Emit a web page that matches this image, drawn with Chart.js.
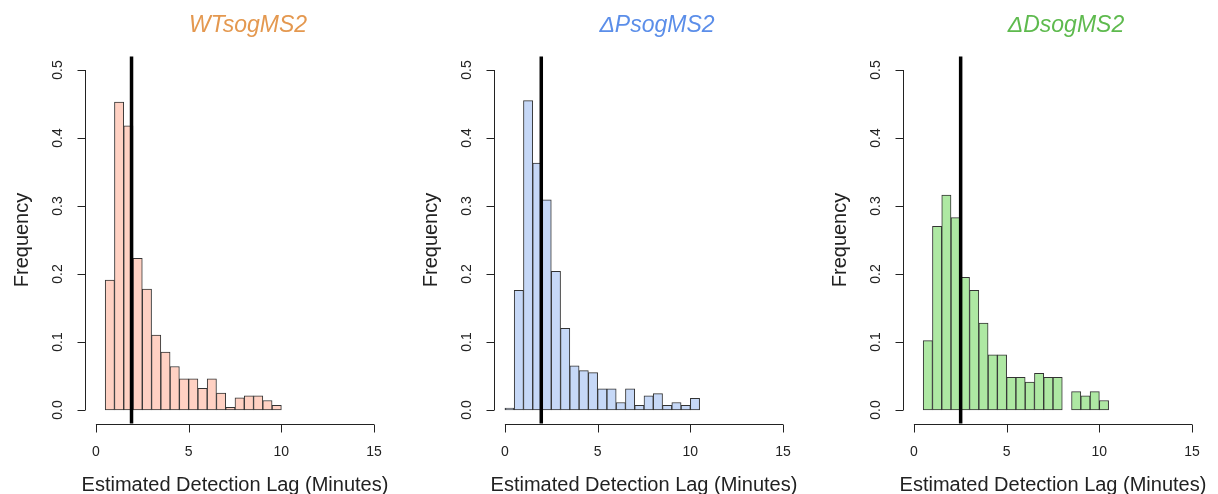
<!DOCTYPE html>
<html>
<head>
<meta charset="utf-8">
<script src="https://cdn.jsdelivr.net/npm/chart.js@4.4.1/dist/chart.umd.min.js"></script>
<style>
  body { margin: 0; background: #fff; width: 1218px; height: 494px; overflow: hidden; position: relative; }
  .panel { position: absolute; top: 0; width: 406px; height: 494px; }
</style>
</head>
<body>
<div class="panel" style="left:0px"><canvas id="c0" width="406" height="494"></canvas></div>
<div class="panel" style="left:409px"><canvas id="c1" width="406" height="494"></canvas></div>
<div class="panel" style="left:818px"><canvas id="c2" width="406" height="494"></canvas></div>
<script>
// ---------------- data ----------------
const titles = ['WTsogMS2', '\u0394PsogMS2', '\u0394DsogMS2'];
const titleColors = ['#e4984f', '#5b8ee9', '#5eba4e'];
const fillColors = ['#ffd1c3', '#c6d8f7', '#aee8a3'];

const xTicks = [0, 5, 10, 15];
const yTicks = [0, 0.1, 0.2, 0.3, 0.4, 0.5];
const yTickLabels = ['0.0', '0.1', '0.2', '0.3', '0.4', '0.5'];

// bin centres (bin width 0.5 min)
const wtBins = [0.75, 1.25, 1.75, 2.25, 2.75, 3.25, 3.75, 4.25, 4.75, 5.25, 5.75, 6.25, 6.75, 7.25, 7.75, 8.25, 8.75, 9.25, 9.75];
const wtFreq = [0.191, 0.453, 0.418, 0.223, 0.178, 0.110, 0.085, 0.064, 0.046, 0.046, 0.032, 0.046, 0.025, 0.004, 0.018, 0.021, 0.021, 0.014, 0.007];

const dpBins = [0.25, 0.75, 1.25, 1.75, 2.25, 2.75, 3.25, 3.75, 4.25, 4.75, 5.25, 5.75, 6.25, 6.75, 7.25, 7.75, 8.25, 8.75, 9.25, 9.75, 10.25];
const dpFreq = [0.003, 0.176, 0.455, 0.363, 0.309, 0.204, 0.120, 0.065, 0.058, 0.055, 0.031, 0.031, 0.011, 0.031, 0.007, 0.021, 0.024, 0.007, 0.011, 0.007, 0.017];

const ddBins = [0.75, 1.25, 1.75, 2.25, 2.75, 3.25, 3.75, 4.25, 4.75, 5.25, 5.75, 6.25, 6.75, 7.25, 7.75, 8.25, 8.75, 9.25, 9.75, 10.25];
const ddFreq = [0.102, 0.270, 0.316, 0.283, 0.195, 0.176, 0.128, 0.081, 0.081, 0.048, 0.048, 0.041, 0.054, 0.048, 0.048, null, 0.027, 0.021, 0.027, 0.014];

// vertical reference line (minutes)
const medians = [1.92, 1.96, 2.52];

const xTitle = 'Estimated Detection Lag (Minutes)';
const yTitle = 'Frequency';

const FONT = '"Liberation Sans", Arial, Helvetica, sans-serif';

// ------------- R-like axes plugin -------------
const rStyle = {
  id: 'rStyle',
  afterDatasetsDraw(chart, args, opts) {
    const ctx = chart.ctx;
    const xs = chart.scales.x, ys = chart.scales.y;
    const area = chart.chartArea;
    ctx.save();

    // median line
    const mx = xs.getPixelForValue(opts.median);
    ctx.strokeStyle = '#000';
    ctx.lineWidth = 3.5;
    ctx.beginPath();
    ctx.moveTo(mx, area.top);
    ctx.lineTo(mx, area.bottom);
    ctx.stroke();

    ctx.strokeStyle = '#222';
    ctx.lineWidth = 1;
    ctx.fillStyle = '#222';

    // x axis
    const ay = Math.round(area.bottom) + 0.5;
    ctx.beginPath();
    ctx.moveTo(xs.getPixelForValue(xTicks[0]), ay);
    ctx.lineTo(xs.getPixelForValue(xTicks[xTicks.length - 1]), ay);
    xTicks.forEach(v => {
      const p = Math.round(xs.getPixelForValue(v)) + 0.5;
      ctx.moveTo(p, ay);
      ctx.lineTo(p, ay + 8);
    });
    ctx.stroke();
    ctx.font = '14px ' + FONT;
    ctx.textAlign = 'center';
    ctx.textBaseline = 'middle';
    xTicks.forEach(v => ctx.fillText(String(v), xs.getPixelForValue(v), ay + 28));
    ctx.font = '20px ' + FONT;
    ctx.fillText(xTitle, (area.left + area.right) / 2, ay + 61);

    // y axis
    const ax = Math.round(area.left) + 0.5;
    ctx.beginPath();
    ctx.moveTo(ax, ys.getPixelForValue(yTicks[0]));
    ctx.lineTo(ax, ys.getPixelForValue(yTicks[yTicks.length - 1]));
    yTicks.forEach(v => {
      const p = Math.round(ys.getPixelForValue(v)) + 0.5;
      ctx.moveTo(ax, p);
      ctx.lineTo(ax - 8, p);
    });
    ctx.stroke();
    ctx.font = '14px ' + FONT;
    yTicks.forEach((v, i) => {
      ctx.save();
      ctx.translate(ax - 27, ys.getPixelForValue(v));
      ctx.rotate(-Math.PI / 2);
      ctx.fillText(yTickLabels[i], 0, 0);
      ctx.restore();
    });
    ctx.save();
    ctx.font = '20px ' + FONT;
    ctx.translate(ax - 63, ys.getPixelForValue(0.25));
    ctx.rotate(-Math.PI / 2);
    ctx.fillText(yTitle, 0, 0);
    ctx.restore();

    // title
    ctx.font = 'italic 23px ' + FONT;
    ctx.fillStyle = opts.titleColor;
    ctx.fillText(opts.title, (area.left + area.right) / 2 + 13, 26);

    ctx.restore();
  }
};

function makeHist(id, bins, freq, i) {
  const ctx = document.getElementById(id).getContext('2d');
  return new Chart(ctx, {
    type: 'bar',
    data: {
      datasets: [{
        data: bins.map((b, k) => ({ x: b, y: freq[k] })),
        backgroundColor: fillColors[i],
        borderColor: '#333',
        borderWidth: 1,
        borderSkipped: false,
        barPercentage: 1,
        categoryPercentage: 1
      }]
    },
    options: {
      responsive: false,
      animation: false,
      devicePixelRatio: 1,
      layout: { padding: { left: 84.8, right: 20.8, top: 56.4, bottom: 70.4 } },
      scales: {
        x: {
          type: 'linear', min: -0.6, max: 15.6, display: false, offset: false,
          afterBuildTicks: s => { s.ticks = xTicks.map(v => ({ value: v })); }
        },
        y: {
          type: 'linear', min: -0.02, max: 0.52, display: false,
          afterBuildTicks: s => { s.ticks = yTicks.map(v => ({ value: v })); }
        }
      },
      plugins: {
        legend: { display: false },
        tooltip: { enabled: false },
        rStyle: { median: medians[i], title: titles[i], titleColor: titleColors[i] }
      }
    },
    plugins: [rStyle]
  });
}

makeHist('c0', wtBins, wtFreq, 0);
makeHist('c1', dpBins, dpFreq, 1);
makeHist('c2', ddBins, ddFreq, 2);
</script>
</body>
</html>
